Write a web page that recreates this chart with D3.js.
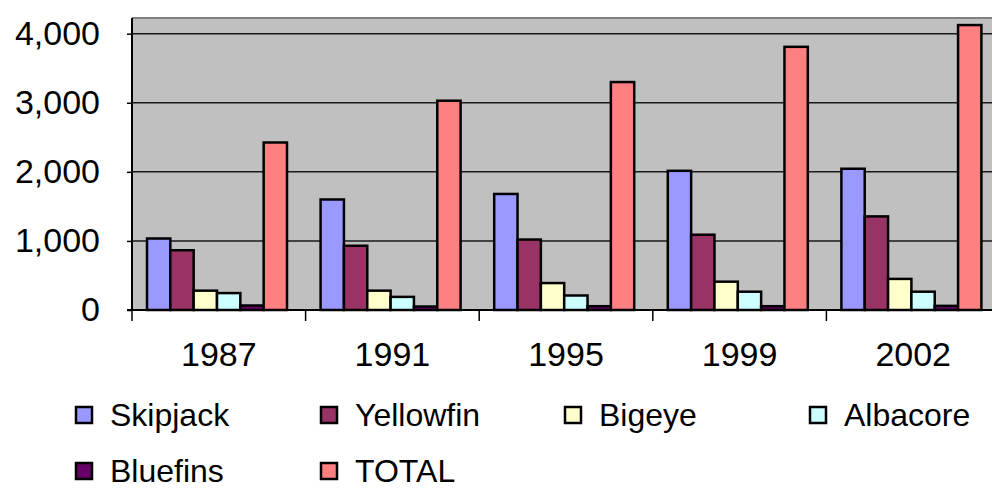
<!DOCTYPE html>
<html>
<head>
<meta charset="utf-8">
<script src="https://cdn.jsdelivr.net/npm/d3@7"></script>
<style>
  body { margin: 0; background: #fff; }
  svg { display: block; font-family: "Liberation Sans", Arial, sans-serif; }
</style>
</head>
<body>
<div id="vis"></div>
<script>
// catch by species, tonnes
const YEARS = ["1987", "1991", "1995", "1999", "2002"];
const SERIES = ["Skipjack", "Yellowfin", "Bigeye", "Albacore", "Bluefins", "TOTAL"];
const SKIPJACK = [1035, 1600, 1680, 2015, 2045];
const YELLOWFIN = [865, 930, 1020, 1090, 1355];
const BIGEYE = [280, 280, 390, 410, 450];
const ALBACORE = [245, 190, 210, 265, 265];
const BLUEFINS = [65, 50, 55, 55, 60];
const TOTAL = [2425, 3030, 3300, 3810, 4125];
const Y_TICKS = [0, 1000, 2000, 3000, 4000];

const COLORS = ["#9999FF", "#993366", "#FFFFCC", "#CCFFFF", "#660066", "#FF8080"];

// frame
const FRAME_WIDTH = 992;
const FRAME_HEIGHT = 489;
const PLOT = {left: 132, right: 1000, top: 18, bottom: 310};

const FRAME = d3.select("#vis")
  .append("svg")
  .attr("width", FRAME_WIDTH)
  .attr("height", FRAME_HEIGHT);

// build the table used for drawing
const VALUES = [SKIPJACK, YELLOWFIN, BIGEYE, ALBACORE, BLUEFINS, TOTAL];
const data = YEARS.map((y, i) => ({
  year: y,
  vals: SERIES.map((s, j) => ({key: s, value: VALUES[j][i], color: COLORS[j]}))
}));

// scales
const X0 = d3.scaleBand().domain(YEARS).range([PLOT.left, PLOT.right]);
const X1 = d3.scaleBand().domain(SERIES).range([15, 155]);
const Y = d3.scaleLinear().domain([0, 4000]).range([PLOT.bottom, 33.7]);

// plot background
FRAME.append("rect")
  .attr("x", PLOT.left)
  .attr("y", PLOT.top)
  .attr("width", PLOT.right - PLOT.left)
  .attr("height", PLOT.bottom - PLOT.top)
  .attr("fill", "#C0C0C0");

FRAME.append("line")
  .attr("x1", PLOT.left).attr("x2", PLOT.right)
  .attr("y1", PLOT.top).attr("y2", PLOT.top)
  .attr("stroke", "#808080")
  .attr("stroke-width", 2);

// gridlines
FRAME.selectAll(".grid")
  .data(Y_TICKS.slice(1))
  .enter()
  .append("line")
    .attr("x1", PLOT.left).attr("x2", PLOT.right)
    .attr("y1", d => Y(d)).attr("y2", d => Y(d))
    .attr("stroke", "#1a1a1a")
    .attr("stroke-width", 1.5);

// bars
const groups = FRAME.selectAll(".grp")
  .data(data)
  .enter()
  .append("g")
    .attr("transform", d => "translate(" + X0(d.year) + ",0)");

groups.selectAll("rect")
  .data(d => d.vals)
  .enter()
  .append("rect")
    .attr("x", d => X1(d.key))
    .attr("y", d => Y(d.value))
    .attr("width", X1.bandwidth())
    .attr("height", d => Y(0) - Y(d.value))
    .attr("fill", d => d.color)
    .attr("stroke", "#000")
    .attr("stroke-width", 2.5);

// y axis
const yAxis = FRAME.append("g")
  .attr("transform", "translate(" + PLOT.left + ",0)")
  .call(d3.axisLeft(Y).tickValues(Y_TICKS).tickFormat(d3.format(","))
          .tickSizeInner(5).tickSizeOuter(0).tickPadding(27));
yAxis.select(".domain").remove();
yAxis.selectAll("line").attr("stroke", "#000").attr("stroke-width", 1.5);
yAxis.selectAll("text").attr("font-size", "34px").attr("fill", "#000");

FRAME.append("line")
  .attr("x1", PLOT.left).attr("x2", PLOT.left)
  .attr("y1", PLOT.top).attr("y2", PLOT.bottom + 1)
  .attr("stroke", "#000").attr("stroke-width", 2);

// x axis
FRAME.append("line")
  .attr("x1", PLOT.left - 5).attr("x2", PLOT.right)
  .attr("y1", PLOT.bottom).attr("y2", PLOT.bottom)
  .attr("stroke", "#000").attr("stroke-width", 2);

FRAME.selectAll(".xtick")
  .data(YEARS)
  .enter()
  .append("line")
    .attr("x1", d => X0(d)).attr("x2", d => X0(d))
    .attr("y1", PLOT.bottom).attr("y2", PLOT.bottom + 11)
    .attr("stroke", "#000").attr("stroke-width", 1.5);

const xAxis = FRAME.append("g")
  .attr("transform", "translate(0," + PLOT.bottom + ")")
  .call(d3.axisBottom(X0).tickSize(0).tickPadding(32));
xAxis.select(".domain").remove();
xAxis.selectAll("text").attr("font-size", "34px").attr("fill", "#000");

// legend
const LEGEND_X = [76, 321, 565, 810];
const legend = FRAME.selectAll(".legend")
  .data(SERIES)
  .enter()
  .append("g")
    .attr("transform", (d, i) => "translate(" + LEGEND_X[i % 4] + "," + (407 + Math.floor(i / 4) * 56) + ")");

legend.append("rect")
  .attr("width", 16)
  .attr("height", 16)
  .attr("fill", (d, i) => COLORS[i])
  .attr("stroke", "#000")
  .attr("stroke-width", 2.5);

legend.append("text")
  .attr("x", 34)
  .attr("y", 19)
  .attr("font-size", "32px")
  .attr("fill", "#000")
  .text(d => d);
</script>
</body>
</html>
